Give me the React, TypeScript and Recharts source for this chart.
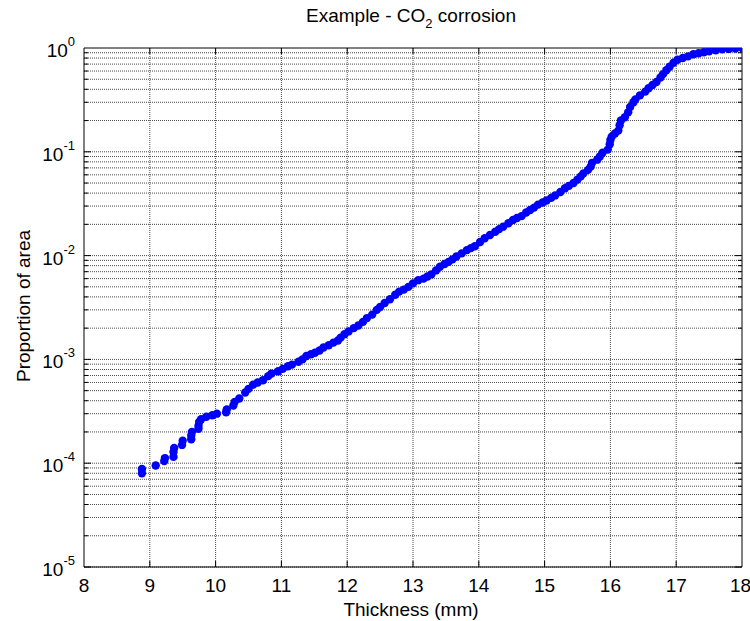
import { ScatterChart, Scatter, XAxis, YAxis, ReferenceLine } from "recharts"

const thickness = [
  8.88, 8.88, 9.09, 9.22, 9.23, 9.36, 9.36, 9.37, 9.49, 9.5, 9.63, 9.63, 9.64, 9.74, 9.74, 9.75, 9.78, 9.86, 9.95,
  10.02, 10.16, 10.17, 10.27, 10.29, 10.36, 10.45, 10.5, 10.57, 10.64, 10.72, 10.8, 10.85, 10.95,
  11.02, 11.1, 11.16, 11.26, 11.32, 11.38, 11.45, 11.51, 11.58, 11.64, 11.72, 11.79, 11.86, 11.9, 11.96,
  12.02, 12.1, 12.17, 12.24, 12.3, 12.38, 12.45, 12.5, 12.57, 12.65, 12.73, 12.79, 12.86, 12.93,
  13.0, 13.08, 13.16, 13.22, 13.28, 13.35, 13.41, 13.48, 13.54, 13.6, 13.66, 13.74, 13.82, 13.88, 13.94,
  14.02, 14.09, 14.17, 14.25, 14.31, 14.37, 14.45, 14.52, 14.58, 14.65, 14.72, 14.78, 14.84, 14.9, 14.97,
  15.03, 15.1, 15.16, 15.24, 15.31, 15.37, 15.44, 15.5, 15.55, 15.59, 15.66, 15.7, 15.72, 15.8, 15.84, 15.88, 15.96, 15.99,
  16.0, 16.02, 16.07, 16.12, 16.14, 16.16, 16.22, 16.27, 16.3, 16.35, 16.38, 16.45, 16.53, 16.58, 16.64, 16.7, 16.76, 16.8, 16.85, 16.9, 16.96,
  17.02, 17.1, 17.18, 17.26, 17.34, 17.42, 17.5, 17.6, 17.7, 17.8, 17.9, 18.0,
]

const proportion = [
  8.0e-5, 8.8e-5, 9.5e-5, 1.05e-4, 1.12e-4, 1.15e-4, 1.28e-4, 1.4e-4, 1.5e-4, 1.65e-4, 1.7e-4, 1.85e-4, 2.0e-4, 2.15e-4, 2.3e-4, 2.5e-4, 2.65e-4, 2.8e-4, 2.9e-4,
  3.0e-4, 3.1e-4, 3.3e-4, 3.6e-4, 3.9e-4, 4.2e-4, 4.8e-4, 5.2e-4, 5.7e-4, 6.0e-4, 6.3e-4, 6.9e-4, 7.3e-4, 7.7e-4,
  8.1e-4, 8.6e-4, 8.9e-4, 9.5e-4, 1.0e-3, 1.08e-3, 1.12e-3, 1.16e-3, 1.22e-3, 1.3e-3, 1.37e-3, 1.45e-3, 1.52e-3, 1.62e-3, 1.75e-3,
  1.86e-3, 2.0e-3, 2.12e-3, 2.3e-3, 2.5e-3, 2.7e-3, 3.0e-3, 3.2e-3, 3.5e-3, 3.8e-3, 4.2e-3, 4.5e-3, 4.7e-3, 5.0e-3,
  5.4e-3, 5.8e-3, 6.0e-3, 6.3e-3, 6.6e-3, 7.2e-3, 7.8e-3, 8.3e-3, 8.7e-3, 9.2e-3, 9.8e-3, 1.05e-2, 1.13e-2, 1.18e-2, 1.23e-2,
  1.35e-2, 1.47e-2, 1.58e-2, 1.7e-2, 1.8e-2, 1.9e-2, 2.05e-2, 2.2e-2, 2.3e-2, 2.4e-2, 2.6e-2, 2.75e-2, 2.9e-2, 3.1e-2, 3.25e-2,
  3.4e-2, 3.6e-2, 3.8e-2, 4.1e-2, 4.45e-2, 4.7e-2, 5.0e-2, 5.4e-2, 5.8e-2, 6.2e-2, 6.7e-2, 7.2e-2, 7.8e-2, 8.4e-2, 9.0e-2, 9.8e-2, 0.105, 0.118,
  0.13, 0.14, 0.15, 0.16, 0.18, 0.2, 0.215, 0.24, 0.27, 0.3, 0.32, 0.35, 0.38, 0.41, 0.44, 0.47, 0.52, 0.56, 0.61, 0.66, 0.72,
  0.77, 0.8, 0.83, 0.87, 0.89, 0.91, 0.93, 0.95, 0.97, 0.98, 0.99, 1.0,
]

const xTicks = [8, 9, 10, 11, 12, 13, 14, 15, 16, 17, 18]
const yTicks = [1e-5, 1e-4, 1e-3, 1e-2, 1e-1, 1]
const minorMult = [2, 3, 4, 5, 6, 7, 8, 9]

const data = thickness.map((t, i) => ({ t, p: proportion[i] }))

// log grid: every decade plus 2..9 inside it
const yGrid: { v: number; major: boolean }[] = []
for (let k = -5; k < 0; k++) {
  const d = Math.pow(10, k)
  yGrid.push({ v: d, major: true })
  for (const m of minorMult) yGrid.push({ v: m * d, major: false })
}

const FONT = "Arial, 'Liberation Sans', Helvetica, sans-serif"
const GRID = { stroke: "#4a4a4a", strokeDasharray: "1 1" }

const LogTick = (props: any) => {
  const { x, y, payload } = props
  const e = Math.round(Math.log10(payload.value))
  return (
    <text x={x - 1} y={y + 9} textAnchor="end" fontFamily={FONT} fontSize={19} fill="#000">
      <tspan>10</tspan>
      <tspan dy={-11} fontSize={13}>{e}</tspan>
    </text>
  )
}

const Dot = (props: any) => <circle cx={props.cx} cy={props.cy} r={4.2} fill="#0000ff" />

export default function App() {
  // inward tick lengths in data units (7px / 4px horizontally, 6px vertically)
  const majX = 7 / 65.8
  const minX = 4 / 65.8
  const tickDec = Math.pow(10, 6 / 103.8)
  return (
    <div style={{ position: "absolute", left: 0, top: 0, width: 750, height: 621, background: "#fff", fontFamily: FONT }}>
      <ScatterChart width={750} height={621} margin={{ top: 48, right: 8, bottom: 24, left: 0 }}>
        {xTicks.slice(1, -1).map(v => (
          <ReferenceLine key={"x" + v} x={v} {...GRID} />
        ))}
        {yGrid.map(g => (
          <ReferenceLine key={"y" + g.v} y={g.v} {...GRID} />
        ))}
        {yGrid.map(g => (
          <ReferenceLine
            key={"lt" + g.v}
            segment={[{ x: 8, y: g.v }, { x: 8 + (g.major ? majX : minX), y: g.v }]}
            stroke="#000"
          />
        ))}
        {yGrid.map(g => (
          <ReferenceLine
            key={"rt" + g.v}
            segment={[{ x: 18 - (g.major ? majX : minX), y: g.v }, { x: 18, y: g.v }]}
            stroke="#000"
          />
        ))}
        {xTicks.slice(1, -1).map(v => (
          <ReferenceLine key={"bt" + v} segment={[{ x: v, y: 1e-5 }, { x: v, y: 1e-5 * tickDec }]} stroke="#000" />
        ))}
        {xTicks.slice(1, -1).map(v => (
          <ReferenceLine key={"tt" + v} segment={[{ x: v, y: 1 / tickDec }, { x: v, y: 1 }]} stroke="#000" />
        ))}
        <ReferenceLine x={18} stroke="#000" />
        <ReferenceLine y={1} stroke="#000" />
        <XAxis
          type="number"
          dataKey="t"
          domain={[8, 18]}
          ticks={xTicks}
          allowDataOverflow
          height={30}
          tickLine={false}
          axisLine={{ stroke: "#000" }}
          tick={{ fill: "#000", fontSize: 19, fontFamily: FONT }}
          tickMargin={6}
        />
        <YAxis
          type="number"
          dataKey="p"
          scale="log"
          domain={[1e-5, 1]}
          ticks={yTicks}
          allowDataOverflow
          width={84}
          tickLine={false}
          axisLine={{ stroke: "#000" }}
          tick={<LogTick />}
        />
        <Scatter data={data} shape={<Dot />} isAnimationActive={false} />
      </ScatterChart>
      <div style={{ position: "absolute", left: 0, width: 822, top: 5, textAlign: "center", fontSize: 19, lineHeight: "22px", color: "#000" }}>
        Example - CO<span style={{ fontSize: 13, position: "relative", top: 6 }}>2</span> corrosion
      </div>
      <div style={{ position: "absolute", left: 0, width: 822, top: 599, textAlign: "center", fontSize: 19, lineHeight: "22px", color: "#000" }}>
        Thickness (mm)
      </div>
      <div
        style={{
          position: "absolute",
          left: 24,
          top: 306,
          fontSize: 19,
          lineHeight: "22px",
          color: "#000",
          whiteSpace: "nowrap",
          transform: "translate(-50%, -50%) rotate(-90deg)",
        }}
      >
        Proportion of area
      </div>
    </div>
  )
}
